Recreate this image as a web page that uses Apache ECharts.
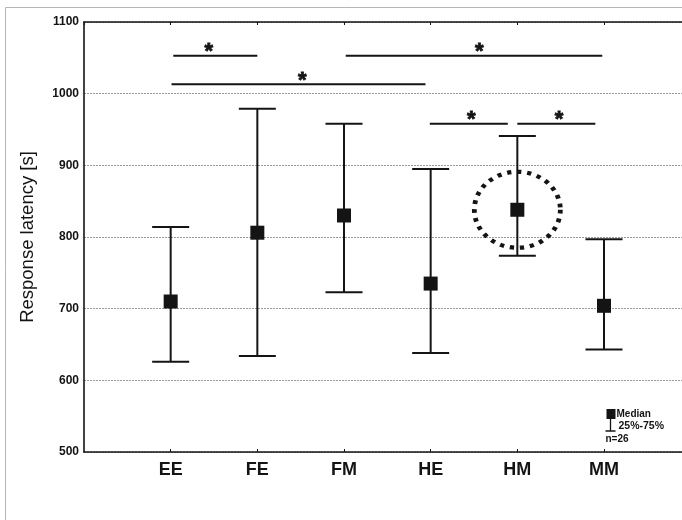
<!DOCTYPE html>
<html>
<head>
<meta charset="utf-8">
<script src="https://cdn.jsdelivr.net/npm/echarts@6/dist/echarts.min.js"></script>
<style>
  html, body { margin: 0; padding: 0; background: #fff; }
  #chart { width: 682px; height: 520px; }
</style>
</head>
<body>
<div id="chart"></div>
<script>
// Groups and their response-latency summaries (seconds)
const categories = ['EE', 'FE', 'FM', 'HE', 'HM', 'MM'];
const medians = [710, 806, 830, 735, 838, 704];
const q25 = [626, 634, 723, 638, 774, 643];
const q75 = [814, 979, 958, 895, 941, 797];
const yTicks = [500, 600, 700, 800, 900, 1000, 1100];

// Significance brackets, in group-axis units (EE = 1 ... MM = 6)
const sigStart = [1.03, 1.01, 3.02, 3.99, 5.00];
const sigEnd = [2.00, 3.94, 5.98, 4.89, 5.90];
const sigLevel = [1053, 1013, 1053, 958, 958];
const sigStarAt = [1.44, 2.52, 4.56, 4.47, 5.48];

// Group singled out with a dotted ring
const ringedGroup = 'HM';

const FONT = 'Liberation Sans, Arial, sans-serif';
const INK = '#141414';

const chart = echarts.init(document.getElementById('chart'), null, { renderer: 'canvas' });

const pos = categories.map((c, i) => i + 1);
const whiskerData = categories.map((c, i) => [pos[i], q25[i], q75[i]]);
const medianData = categories.map((c, i) => [pos[i], medians[i]]);
const ringIdx = categories.indexOf(ringedGroup);
const sigData = sigStart.map((s, i) => [s, sigEnd[i], sigLevel[i], sigStarAt[i]]);

// the frame runs past the right edge of the canvas, so the group axis stops short of 7
const X_MAX = 6.9;

const option = {
  backgroundColor: '#fff',
  animation: false,
  grid: { left: 84, right: 0, top: 22, bottom: 68 },
  xAxis: [
    {
      type: 'value', min: 0, max: X_MAX, interval: 1, position: 'bottom',
      axisLine: { show: true, onZero: false, lineStyle: { color: INK, width: 1.6 } },
      axisTick: { show: true, inside: true, length: 3, lineStyle: { color: INK, width: 1 } },
      axisLabel: {
        formatter: v => categories[v - 1] || '',
        fontFamily: FONT, fontSize: 18, fontWeight: 'bold', color: INK, margin: 9,
        showMinLabel: false, showMaxLabel: false
      },
      splitLine: { show: false }
    },
    {
      type: 'value', min: 0, max: X_MAX, interval: 1, position: 'top',
      axisLine: { show: true, onZero: false, lineStyle: { color: INK, width: 1.6 } },
      axisTick: { show: true, inside: true, length: 3, lineStyle: { color: INK, width: 1 } },
      axisLabel: { show: false },
      splitLine: { show: false }
    }
  ],
  yAxis: {
    type: 'value', min: yTicks[0], max: yTicks[yTicks.length - 1], interval: 100,
    name: 'Response latency [s]', nameLocation: 'middle', nameGap: 47, nameRotate: 90,
    nameTextStyle: { fontFamily: FONT, fontSize: 18.5, color: INK },
    axisLine: { show: true, lineStyle: { color: INK, width: 1.6 } },
    axisTick: { show: false },
    axisLabel: {
      formatter: v => (yTicks.includes(v) ? String(v) : ''),
      fontFamily: FONT, fontSize: 12, fontWeight: 'bold', color: INK, margin: 5
    },
    splitLine: { show: true, lineStyle: { color: '#9a9a9a', width: 1, type: [2, 1] } }
  },
  series: [
    {
      // 25%-75% whiskers with end caps
      type: 'custom',
      xAxisIndex: 0,
      data: whiskerData,
      renderItem: (params, api) => {
        const x = api.value(0);
        const lo = api.coord([x, api.value(1)]);
        const hi = api.coord([x, api.value(2)]);
        const half = 18.5;
        const st = { stroke: INK, lineWidth: 2 };
        return {
          type: 'group',
          children: [
            { type: 'line', shape: { x1: lo[0], y1: lo[1], x2: hi[0], y2: hi[1] }, style: st },
            { type: 'line', shape: { x1: lo[0] - half, y1: lo[1], x2: lo[0] + half, y2: lo[1] }, style: st },
            { type: 'line', shape: { x1: hi[0] - half, y1: hi[1], x2: hi[0] + half, y2: hi[1] }, style: st }
          ]
        };
      },
      z: 3
    },
    {
      // medians
      type: 'scatter',
      xAxisIndex: 0,
      data: medianData,
      symbol: 'rect',
      symbolSize: 14,
      itemStyle: { color: INK, opacity: 1 },
      emphasis: { disabled: true },
      z: 4
    },
    {
      // dotted ring around one group's median
      type: 'scatter',
      xAxisIndex: 0,
      data: [medianData[ringIdx]],
      symbol: 'circle',
      symbolSize: [86, 76],
      silent: true,
      itemStyle: {
        color: 'rgba(0,0,0,0)', borderColor: INK, borderWidth: 4.5, opacity: 1,
        borderType: [4, 5.5], borderCap: 'butt'
      },
      emphasis: { disabled: true },
      z: 5
    },
    {
      // significance brackets with stars
      type: 'custom',
      xAxisIndex: 0,
      data: sigData,
      renderItem: (params, api) => {
        const a = api.coord([api.value(0), api.value(2)]);
        const b = api.coord([api.value(1), api.value(2)]);
        const s = api.coord([api.value(3), api.value(2)]);
        return {
          type: 'group',
          children: [
            { type: 'line', shape: { x1: a[0], y1: a[1], x2: b[0], y2: b[1] }, style: { stroke: INK, lineWidth: 2 } },
            {
              type: 'text', x: s[0], y: s[1] - 3.5,
              style: {
                text: '*', fill: INK, font: 'bold 22px ' + FONT,
                align: 'center', verticalAlign: 'middle',
                stroke: INK, lineWidth: 0.8
              }
            }
          ]
        };
      },
      z: 3
    }
  ],
  graphic: [
    {
      type: 'rect', silent: true, z: 0,
      shape: { x: 5.5, y: 7.5, width: 700, height: 540 },
      style: { fill: 'none', stroke: '#b5b5b5', lineWidth: 1 }
    },
    {
      type: 'group', left: 603, top: 409, z: 10,
      children: [
        { type: 'rect', shape: { x: 3, y: 0, width: 9, height: 10 }, style: { fill: INK } },
        { type: 'line', shape: { x1: 7, y1: 10, x2: 7, y2: 22 }, style: { stroke: INK, lineWidth: 1.3 } },
        { type: 'line', shape: { x1: 2, y1: 22, x2: 12, y2: 22 }, style: { stroke: INK, lineWidth: 1.5 } },
        { type: 'text', x: 13, y: 5, style: { text: 'Median', font: 'bold 10px ' + FONT, fill: INK, verticalAlign: 'middle' } },
        { type: 'text', x: 15, y: 17.5, style: { text: '25%-75%', font: 'bold 10.5px ' + FONT, fill: INK, verticalAlign: 'middle' } },
        { type: 'text', x: 2, y: 30.5, style: { text: 'n=26', font: 'bold 10px ' + FONT, fill: INK, verticalAlign: 'middle' } }
      ]
    }
  ]
};

chart.setOption(option);
</script>
</body>
</html>
